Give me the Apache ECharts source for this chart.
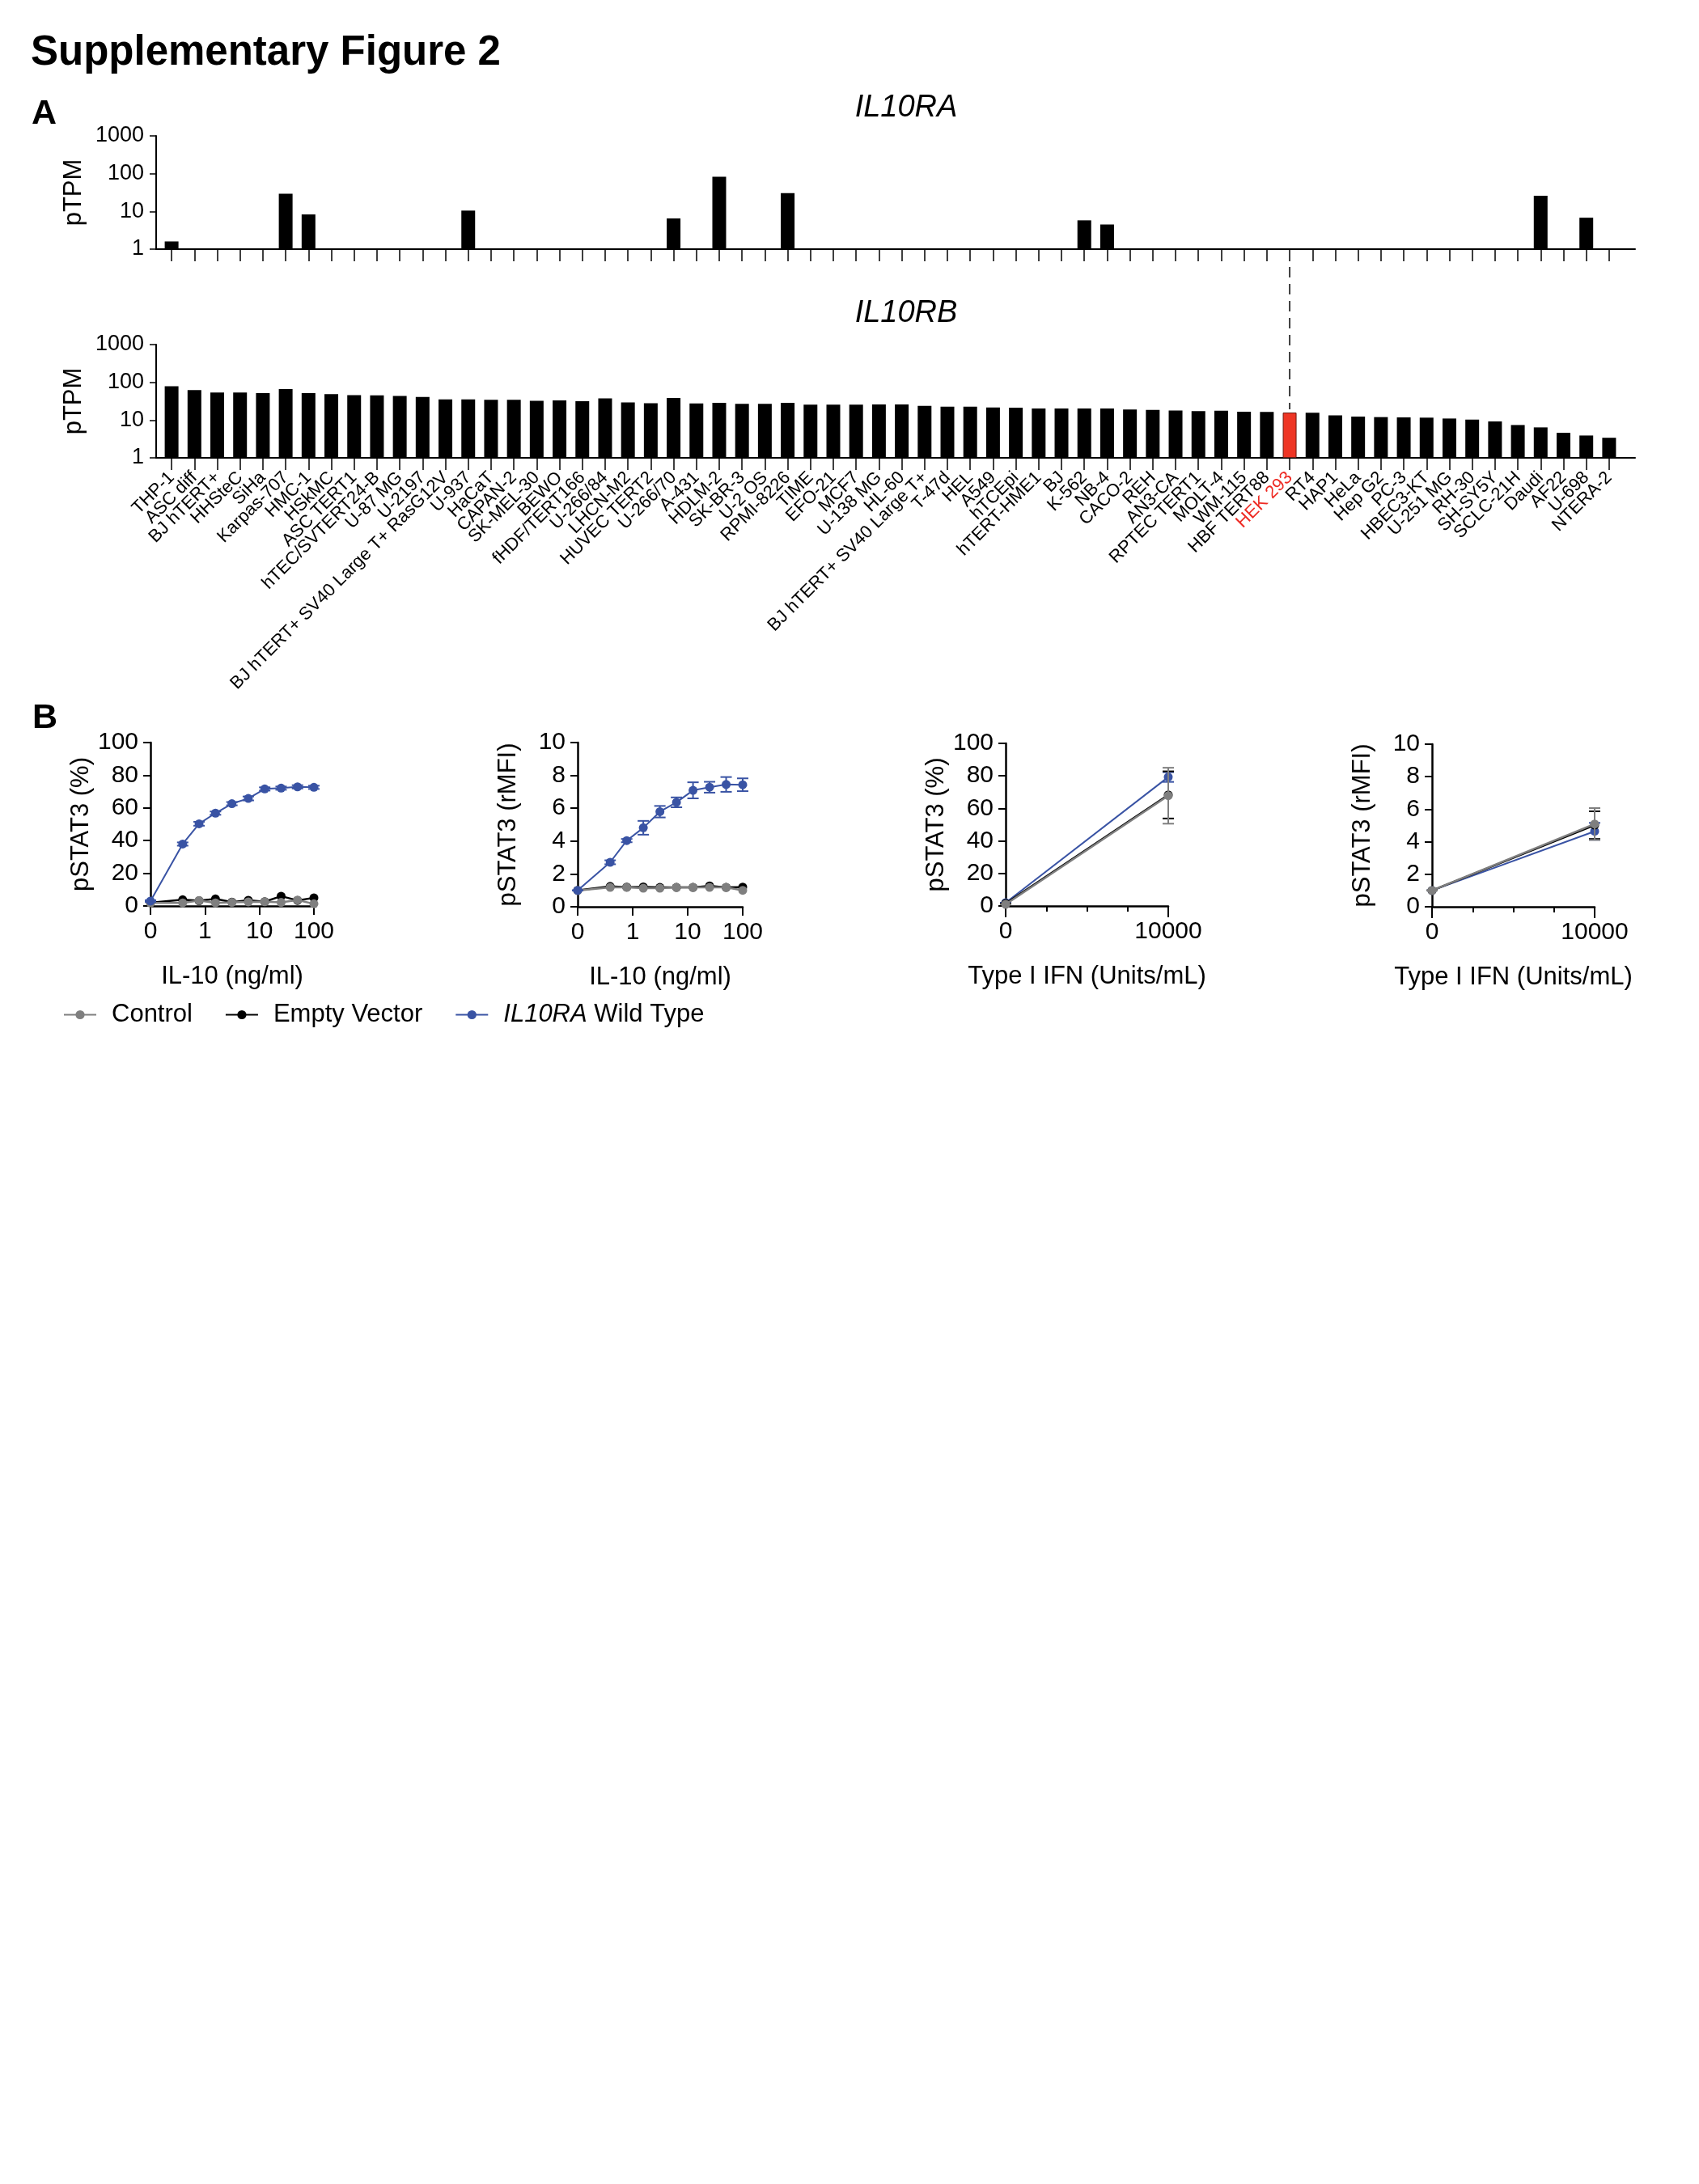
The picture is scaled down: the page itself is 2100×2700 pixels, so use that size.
<!DOCTYPE html>
<html><head><meta charset="utf-8">
<script src="https://cdn.jsdelivr.net/npm/echarts@6/dist/echarts.min.js"></script>
<style>html,body{margin:0;padding:0;background:#fff}#c{width:2100px;height:2700px}</style>
</head><body><div id="c"></div>
<script>
// ---------- DATA ----------
const cellLines = ['THP-1','ASC diff','BJ hTERT+','HHSteC','SiHa','Karpas-707','HMC-1','HSkMC','ASC TERT1','hTEC/SVTERT24-B','U-87 MG','U-2197','BJ hTERT+ SV40 Large T+ RasG12V','U-937','HaCaT','CAPAN-2','SK-MEL-30','BEWO','fHDF/TERT166','U-266/84','LHCN-M2','HUVEC TERT2','U-266/70','A-431','HDLM-2','SK-BR-3','U-2 OS','RPMI-8226','TIME','EFO-21','MCF7','U-138 MG','HL-60','BJ hTERT+ SV40 Large T+','T-47d','HEL','A549','hTCEpi','hTERT-HME1','BJ','K-562','NB-4','CACO-2','REH','AN3-CA','RPTEC TERT1','MOLT-4','WM-115','HBF TERT88','HEK 293','RT4','HAP1','HeLa','Hep G2','PC-3','HBEC3-KT','U-251 MG','RH-30','SH-SY5Y','SCLC-21H','Daudi','AF22','U-698','NTERA-2'];
const il10raPTPM = [1.6,null,null,null,null,29.5,8.3,null,null,null,null,null,null,10.5,null,null,null,null,null,null,null,null,6.5,null,83,null,null,30.5,null,null,null,null,null,null,null,null,null,null,null,null,5.8,4.5,null,null,null,null,null,null,null,null,null,null,null,null,null,null,null,null,null,null,26,null,6.8,null];
const il10rbPTPM = [79,62,53.5,53.5,51.6,66,51.6,48.4,46,45.3,43.8,41,35.4,35.4,34.3,34.3,32.6,33.1,31.5,37.8,29.5,28.1,38.4,27.7,28.6,26.8,26.8,28.6,25.5,25.5,25.5,25.9,25.9,23.9,22.7,22.7,21.6,21.3,20.2,20.2,20.2,20.2,19.0,18.7,18.0,17.2,17.7,16.6,16.4,15.8,15.6,13.4,12.4,12.0,11.8,11.6,11.0,10.3,9.2,7.4,6.4,4.6,3.9,3.4];
const highlightCell = 'HEK 293';

const il10Doses = [0, 0.39, 0.78, 1.56, 3.125, 6.25, 12.5, 25, 50, 100];
const il10PctControl = [1.8, 1.9, 3.3, 1.9, 2.2, 2.5, 2.6, 2.2, 3.6, 1.3];
const il10PctEmpty   = [2.0, 3.8, 3.2, 4.3, 2.4, 3.5, 2.6, 6.0, 3.4, 5.0];
const il10PctWT      = [3.0, 37.9, 50.3, 56.8, 62.6, 65.8, 71.6, 72.1, 72.9, 72.6];
const il10PctWTErr   = [0.5, 1.0, 1.2, 1.0, 1.0, 1.2, 1.0, 1.0, 1.0, 1.0];
const il10MfiControl = [0.98, 1.18, 1.18, 1.13, 1.13, 1.18, 1.18, 1.18, 1.18, 1.0];
const il10MfiEmpty   = [1.0, 1.24, 1.2, 1.21, 1.18, 1.18, 1.18, 1.27, 1.18, 1.2];
const il10MfiWT      = [1.0, 2.71, 4.03, 4.81, 5.79, 6.36, 7.09, 7.28, 7.45, 7.43];
const il10MfiWTErr   = [0.0, 0.12, 0.1, 0.42, 0.35, 0.3, 0.49, 0.33, 0.45, 0.39];

const ifnDoses = [0, 10000];
const ifnPctControl = [1.0, 67.8], ifnPctControlErr = [0, 17.2];
const ifnPctEmpty   = [1.5, 68.3], ifnPctEmptyErr   = [0, 14.5];
const ifnPctWT      = [2.0, 79.3], ifnPctWTErr      = [0, 3.0];
const ifnMfiControl = [1.0, 5.09], ifnMfiControlErr = [0, 0.98];
const ifnMfiEmpty   = [1.0, 5.02], ifnMfiEmptyErr   = [0, 0.85];
const ifnMfiWT      = [1.0, 4.64], ifnMfiWTErr      = [0, 0.52];

const groupNames = ['Control', 'Empty Vector', 'IL10RA Wild Type'];
// ---------- STYLE ----------
const FONT = '"Liberation Sans", Arial, Helvetica, sans-serif';
const colors = {'Control': '#7f7f7f', 'Empty Vector': '#000000', 'IL10RA Wild Type': '#3953a4'};
const plain = v => String(v);

const chart = echarts.init(document.getElementById('c'), null, {renderer: 'canvas'});

// category axis for the bars (grid 0/1), hidden axis line
function catAxisA(gridIndex, showLabels) {
  return {
    type: 'category', gridIndex, data: cellLines, boundaryGap: true,
    axisLine: {show: false},
    axisTick: {show: true, alignWithLabel: true, interval: 0, length: 15, lineStyle: {color: '#000', width: 1.5}},
    axisLabel: showLabels ? {
      show: true, interval: 0, rotate: 45, margin: 21, fontSize: 22, fontFamily: FONT, color: '#000',
      showMinLabel: true, showMaxLabel: true, hideOverlap: false, overflow: 'none',
      formatter: v => v === highlightCell ? '{hek|' + v + '}' : v,
      rich: {hek: {color: '#ee2b24', fontSize: 22, fontFamily: FONT}}
    } : {show: false},
    splitLine: {show: false}
  };
}
// frame axes (grid 2/3): longer axis line + visible log y axis
function frameXAxisA(gridIndex) {
  return {type: 'value', gridIndex, min: 0, max: 1, axisLine: {show: true, lineStyle: {color: '#000', width: 2}},
    axisTick: {show: false}, axisLabel: {show: false}, splitLine: {show: false}};
}
function yAxisA(gridIndex, visible) {
  return {
    type: 'log', logBase: 10, gridIndex, min: 1, max: 1000, show: visible,
    name: visible ? 'pTPM' : '', nameLocation: 'middle', nameGap: 80, nameRotate: 90,
    nameTextStyle: {fontSize: 31, fontFamily: FONT, color: '#000'},
    axisLine: {show: true, lineStyle: {color: '#000', width: 2}},
    axisTick: {show: true, length: 8, lineStyle: {color: '#000', width: 1.5}},
    axisLabel: {fontSize: 27, fontFamily: FONT, color: '#000', margin: 15, formatter: plain},
    splitLine: {show: false}
  };
}
function barData(values) {
  return values.map(v => (v == null ? '-' : v)).map((v, i) => cellLines[i] === highlightCell
    ? {value: v, itemStyle: {color: '#ee3524', borderColor: '#6b1a12', borderWidth: 1}}
    : v);
}

const axisLineB = {show: true, lineStyle: {color: '#000', width: 2.5}};
function xAxisLogB(gridIndex) {
  return {
    type: 'log', logBase: 10, gridIndex, min: 0.1, max: 100,
    name: 'IL-10 (ng/ml)', nameLocation: 'middle', nameGap: 72,
    nameTextStyle: {fontSize: 31, fontFamily: FONT, color: '#000'},
    axisLine: axisLineB,
    axisTick: {show: true, length: 11, lineStyle: {color: '#000', width: 2}},
    axisLabel: {fontSize: 30, fontFamily: FONT, color: '#000', margin: 17, formatter: v => v < 0.5 ? '0' : String(Math.round(v))},
    splitLine: {show: false}
  };
}
function xAxisIfnB(gridIndex) {
  return {
    type: 'value', gridIndex, min: 0, max: 10000, interval: 10000,
    name: 'Type I IFN (Units/mL)', nameLocation: 'middle', nameGap: 72,
    nameTextStyle: {fontSize: 31, fontFamily: FONT, color: '#000'},
    axisLine: axisLineB,
    axisTick: {show: true, length: 14, lineStyle: {color: '#000', width: 2}},
    minorTick: {show: true, splitNumber: 4, length: 7, lineStyle: {color: '#000', width: 2}},
    axisLabel: {fontSize: 30, fontFamily: FONT, color: '#000', margin: 17, formatter: plain},
    splitLine: {show: false}, minorSplitLine: {show: false}
  };
}
function yAxisB(gridIndex, max, interval, name) {
  return {
    type: 'value', gridIndex, min: 0, max, interval,
    name, nameLocation: 'middle', nameGap: 70, nameRotate: 90,
    nameTextStyle: {fontSize: 31, fontFamily: FONT, color: '#000'},
    axisLine: axisLineB,
    axisTick: {show: true, length: 9, lineStyle: {color: '#000', width: 2}},
    axisLabel: {fontSize: 30, fontFamily: FONT, color: '#000', margin: 15, formatter: plain},
    splitLine: {show: false}
  };
}

function lineSeries(name, axisIdx, xs, ys, xMap, z) {
  return {
    type: 'line', name, xAxisIndex: axisIdx, yAxisIndex: axisIdx,
    data: xs.map((x, i) => [xMap(x), ys[i]]),
    symbol: 'circle', symbolSize: 11, showSymbol: true,
    itemStyle: {color: colors[name]},
    lineStyle: {color: colors[name], width: name === 'IL10RA Wild Type' ? 2 : 2.5},
    z, animation: false
  };
}
function errSeries(name, axisIdx, xs, ys, errs, xMap, z) {
  return {
    type: 'custom', xAxisIndex: axisIdx, yAxisIndex: axisIdx, z, silent: true,
    data: xs.map((x, i) => [xMap(x), ys[i] - errs[i], ys[i] + errs[i]]),
    renderItem: (params, api) => {
      const lo = api.coord([api.value(0), api.value(1)]);
      const hi = api.coord([api.value(0), api.value(2)]);
      const w = 7;
      const st = {stroke: colors[name], lineWidth: 2};
      return {type: 'group', children: [
        {type: 'line', shape: {x1: lo[0], y1: lo[1], x2: hi[0], y2: hi[1]}, style: st},
        {type: 'line', shape: {x1: hi[0] - w, y1: hi[1], x2: hi[0] + w, y2: hi[1]}, style: st},
        {type: 'line', shape: {x1: lo[0] - w, y1: lo[1], x2: lo[0] + w, y2: lo[1]}, style: st}
      ]};
    }
  };
}
const logX = d => d === 0 ? 0.1 : d;
const linX = d => d;

// axis index layout: 0,1 = bar grids; 2,3 = frame grids; 4..7 = panel B
const series = [
  {type: 'bar', name: 'IL10RA', xAxisIndex: 0, yAxisIndex: 0, barWidth: 17, itemStyle: {color: '#000'}, data: barData(il10raPTPM), animation: false},
  {type: 'bar', name: 'IL10RB', xAxisIndex: 1, yAxisIndex: 1, barWidth: 17, itemStyle: {color: '#000'}, data: barData(il10rbPTPM), animation: false},
  // B1
  lineSeries('Control', 4, il10Doses, il10PctControl, logX, 3),
  lineSeries('Empty Vector', 4, il10Doses, il10PctEmpty, logX, 2),
  lineSeries('IL10RA Wild Type', 4, il10Doses, il10PctWT, logX, 4),
  errSeries('IL10RA Wild Type', 4, il10Doses, il10PctWT, il10PctWTErr, logX, 4),
  // B2
  lineSeries('Control', 5, il10Doses, il10MfiControl, logX, 3),
  lineSeries('Empty Vector', 5, il10Doses, il10MfiEmpty, logX, 2),
  lineSeries('IL10RA Wild Type', 5, il10Doses, il10MfiWT, logX, 4),
  errSeries('IL10RA Wild Type', 5, il10Doses, il10MfiWT, il10MfiWTErr, logX, 4),
  // B3
  errSeries('IL10RA Wild Type', 6, ifnDoses, ifnPctWT, ifnPctWTErr, linX, 2),
  lineSeries('IL10RA Wild Type', 6, ifnDoses, ifnPctWT, linX, 2),
  errSeries('Empty Vector', 6, ifnDoses, ifnPctEmpty, ifnPctEmptyErr, linX, 3),
  lineSeries('Empty Vector', 6, ifnDoses, ifnPctEmpty, linX, 3),
  errSeries('Control', 6, ifnDoses, ifnPctControl, ifnPctControlErr, linX, 4),
  lineSeries('Control', 6, ifnDoses, ifnPctControl, linX, 4),
  // B4
  errSeries('IL10RA Wild Type', 7, ifnDoses, ifnMfiWT, ifnMfiWTErr, linX, 2),
  lineSeries('IL10RA Wild Type', 7, ifnDoses, ifnMfiWT, linX, 2),
  errSeries('Empty Vector', 7, ifnDoses, ifnMfiEmpty, ifnMfiEmptyErr, linX, 3),
  lineSeries('Empty Vector', 7, ifnDoses, ifnMfiEmpty, linX, 3),
  errSeries('Control', 7, ifnDoses, ifnMfiControl, ifnMfiControlErr, linX, 4),
  lineSeries('Control', 7, ifnDoses, ifnMfiControl, linX, 4)
];

function textEl(text, x, y, size, opts) {
  return {type: 'text', x, y, silent: true,
    style: Object.assign({text, fontSize: size, fontFamily: FONT, fill: '#000', align: 'left', verticalAlign: 'middle'}, opts || {})};
}

const baseGraphic = [
  textEl('Supplementary Figure 2', 38, 66, 51, {fontWeight: 'bold'}),
  textEl('A', 39, 141, 43, {fontWeight: 'bold'}),
  textEl('B', 40, 888, 43, {fontWeight: 'bold'}),
  textEl('IL10RA', 1120, 133, 38, {fontStyle: 'italic', align: 'center'}),
  textEl('IL10RB', 1120, 387, 38, {fontStyle: 'italic', align: 'center'})
];

const option = {
  backgroundColor: '#fff',
  animation: false,
  grid: [
    {left: 198, top: 168, width: 1805, height: 140},
    {left: 198, top: 426, width: 1805, height: 140},
    {left: 193, top: 168, width: 1828, height: 140},
    {left: 193, top: 426, width: 1828, height: 140},
    {left: 186, top: 918, width: 202, height: 202},
    {left: 714, top: 918, width: 204, height: 203},
    {left: 1243, top: 919, width: 201, height: 201},
    {left: 1770, top: 920, width: 201, height: 201}
  ],
  xAxis: [catAxisA(0, false), catAxisA(1, true), frameXAxisA(2), frameXAxisA(3),
          xAxisLogB(4), xAxisLogB(5), xAxisIfnB(6), xAxisIfnB(7)],
  yAxis: [yAxisA(0, false), yAxisA(1, false), yAxisA(2, true), yAxisA(3, true),
          yAxisB(4, 100, 20, 'pSTAT3 (%)'), yAxisB(5, 10, 2, 'pSTAT3 (rMFI)'), yAxisB(6, 100, 20, 'pSTAT3 (%)'), yAxisB(7, 10, 2, 'pSTAT3 (rMFI)')],
  legend: {
    data: groupNames, left: 73, top: 1234, itemWidth: 40, itemHeight: 14, itemGap: 40,
    textStyle: {fontSize: 31, fontFamily: FONT, color: '#000', padding: [0, 0, 0, 14],
      rich: {i: {fontStyle: 'italic', fontSize: 31, fontFamily: FONT, color: '#000'}, n: {fontSize: 31, fontFamily: FONT, color: '#000'}}},
    formatter: n => n === 'IL10RA Wild Type' ? '{i|IL10RA}{n| Wild Type}' : n
  },
  graphic: baseGraphic,
  series
};
chart.setOption(option);

// dashed connector at the highlighted cell line, positioned through the axes
const xPix = chart.convertToPixel({xAxisIndex: 0}, highlightCell);
const hekIdx = cellLines.indexOf(highlightCell);
const yTop = chart.convertToPixel({yAxisIndex: 0}, 1) + 22;
const yBot = chart.convertToPixel({yAxisIndex: 1}, il10rbPTPM[hekIdx]) - 4;
chart.setOption({graphic: baseGraphic.concat([{
  type: 'line', silent: true,
  shape: {x1: xPix, y1: yTop, x2: xPix, y2: yBot},
  style: {stroke: '#000', lineWidth: 1.5, lineDash: [13, 8]}
}])});
</script></body></html>
